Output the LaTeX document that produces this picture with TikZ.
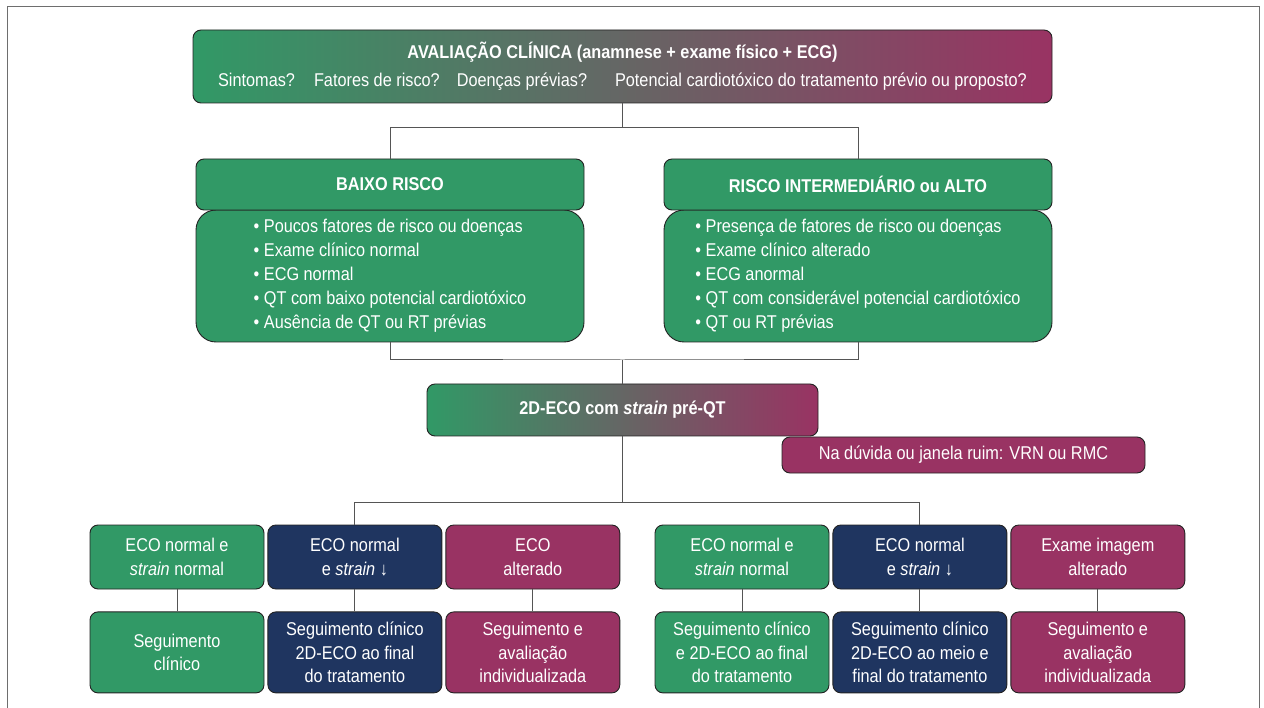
\documentclass[tikz,border=0pt]{standalone}
\usepackage{fontspec}
\setmainfont{Liberation Sans}[FakeStretch=0.88]
\usetikzlibrary{positioning}

\definecolor{cgreen}{RGB}{49,153,102}
\definecolor{cnavy}{RGB}{31,53,96}
\definecolor{cpurple}{RGB}{153,51,99}
\definecolor{cedge}{RGB}{35,35,35}
\definecolor{cline}{RGB}{85,85,85}
\definecolor{cframe}{RGB}{110,110,110}

\tikzset{
  box/.style={draw=cedge, line width=0.9pt, rounded corners=8pt, text=white,
    align=center, inner sep=2pt, font=\fontsize{18.5}{23.5}\selectfont},
  greenbox/.style={box, fill=cgreen},
  navybox/.style={box, fill=cnavy},
  purplebox/.style={box, fill=cpurple},
  gradbox/.style={box, left color=cgreen, right color=cpurple},
  riskhead/.style={greenbox, minimum width=388pt, minimum height=51pt},
  riskbody/.style={greenbox, rounded corners=20pt, minimum width=388pt,
    minimum height=132pt, align=left, font=\fontsize{18.5}{24}\selectfont},
  topres/.style={minimum width=174pt, minimum height=64pt},
  botres/.style={minimum width=174pt, minimum height=81pt},
  conn/.style={draw=cline, line width=1pt},
}

\begin{document}
\begin{tikzpicture}[x=1pt, y=1pt, node distance=3pt]
  \useasboundingbox (0,0) rectangle (1264,-708);
  \draw[cframe, line width=1pt] (7,-720) -- (7,-7) -- (1259,-7) -- (1259,-720);

  % avaliacao clinica
  \node[gradbox, minimum width=859pt, minimum height=73pt,
    font=\fontsize{18.5}{28}\selectfont] (aval) at (622.5,-66.5)
    {\textbf{AVALIAÇÃO CLÍNICA (anamnese + exame físico + ECG)}\\
     Sintomas?\hspace{19pt}Fatores de risco?\hspace{17pt}Doenças prévias?\hspace{28pt}Potencial cardiotóxico do tratamento prévio ou proposto?};

  % grupos de risco
  \node[riskbody] (baixo) at (390,-276)
    {• Poucos fatores de risco ou doenças\\
     • Exame clínico normal\\
     • ECG normal\\
     • QT com baixo potencial cardiotóxico\\
     • Ausência de QT ou RT prévias};
  \node[riskhead] (hbaixo) at (390,-184.5) {\textbf{BAIXO RISCO}};

  \node[riskbody] (alto) at (858,-276)
    {• Presença de fatores de risco ou doenças\\
     • Exame clínico alterado\\
     • ECG anormal\\
     • QT com considerável potencial cardiotóxico\\
     • QT ou RT prévias};
  \node[riskhead] (halto) at (858,-184.5) {\textbf{RISCO INTERMEDIÁRIO ou ALTO}};

  \draw[conn] (aval.south) -- ++(0,-24) coordinate (j1);
  \draw[conn] (hbaixo.north) |- (j1) -| (halto.north);

  % eco pre-QT
  \node[gradbox, minimum width=391pt, minimum height=52pt] (eco) at (622.5,-410)
    {\textbf{2D-ECO com \textit{strain} pré-QT}};
  \node[purplebox, minimum width=363pt, minimum height=36pt] (duvida) at (963.5,-455)
    {Na dúvida ou janela ruim: VRN ou RMC};

  \coordinate (j2) at (622.5,-360);
  \draw[conn] (baixo.south) |- (j2) -| (alto.south);
  \draw[conn] (j2) -- (eco.north);

  % resultados
  \node[greenbox, topres] (r1) at (177,-557) {ECO normal e\\\textit{strain} normal};
  \node[navybox, topres, right=of r1] (r2) {ECO normal\\e \textit{strain} ↓};
  \node[purplebox, topres, right=of r2] (r3) {ECO\\alterado};
  \node[greenbox, topres] (r4) at (742,-557) {ECO normal e\\\textit{strain} normal};
  \node[navybox, topres, right=of r4] (r5) {ECO normal\\e \textit{strain} ↓};
  \node[purplebox, topres, right=of r5] (r6) {Exame imagem\\alterado};

  \node[greenbox, botres, below=22pt of r1] (s1) {Seguimento\\clínico};
  \node[navybox, botres, below=22pt of r2] (s2) {Seguimento clínico\\2D-ECO ao final\\do tratamento};
  \node[purplebox, botres, below=22pt of r3] (s3) {Seguimento e\\avaliação\\individualizada};
  \node[greenbox, botres, below=22pt of r4] (s4) {Seguimento clínico\\e 2D-ECO ao final\\do tratamento};
  \node[navybox, botres, below=22pt of r5] (s5) {Seguimento clínico\\2D-ECO ao meio e\\final do tratamento};
  \node[purplebox, botres, below=22pt of r6] (s6) {Seguimento e\\avaliação\\individualizada};

  \draw[conn] (eco.south) -- ++(0,-66) coordinate (j3);
  \draw[conn] (r2.north) |- (j3) -| (r5.north);
  \foreach \i in {1,...,6}
    \draw[conn] (r\i) -- (s\i);
\end{tikzpicture}
\end{document}
